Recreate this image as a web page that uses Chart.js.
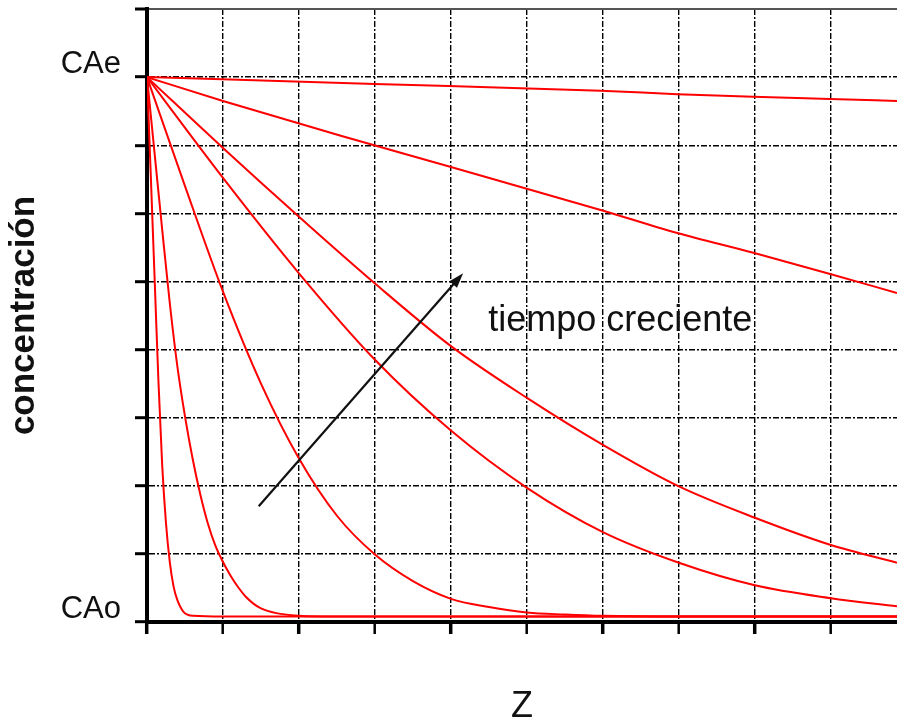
<!DOCTYPE html>
<html>
<head>
<meta charset="utf-8">
<script src="https://cdn.jsdelivr.net/npm/chart.js@4.4.0/dist/chart.umd.min.js"></script>
<style>
  body { margin: 0; background: #fff; }
  #wrap { width: 897px; height: 724px; }
</style>
</head>
<body>
<div id="wrap"><canvas id="myChart"></canvas></div>
<script>
// concentration profiles, shortest time first (Z position, concentration)
var z1 = [0, 0.05, 0.1, 0.15, 0.2, 0.25, 0.3, 0.35, 0.4, 0.48, 0.61, 1.0, 9.87];
var c1 = [8, 6.55, 5.05, 3.55, 2.3, 1.45, 0.88, 0.52, 0.32, 0.15, 0.09, 0.08, 0.08];

var z2 = [0, 0.1, 0.2, 0.3, 0.4, 0.5, 0.6, 0.7, 0.8, 0.9, 1.0, 1.1, 1.2, 1.3, 1.4, 1.5, 1.7, 1.9, 2.3, 9.87];
var c2 = [8, 6.88, 5.76, 4.68, 3.75, 3.02, 2.4, 1.88, 1.45, 1.12, 0.88, 0.68, 0.51, 0.37, 0.27, 0.2, 0.13, 0.1, 0.08, 0.08];

var z3 = [0, 0.5, 1, 1.5, 2, 2.5, 3, 3.5, 4, 4.5, 5, 5.5, 6, 7, 9.87];
var c3 = [8, 6.4, 4.85, 3.5, 2.4, 1.56, 0.99, 0.6, 0.34, 0.22, 0.14, 0.11, 0.09, 0.08, 0.08];

var z4 = [0, 1, 2, 3, 4, 5, 6, 7, 8, 9, 9.87];
var c4 = [8, 6.52, 5.12, 3.85, 2.81, 1.97, 1.32, 0.87, 0.54, 0.35, 0.23];

var z5 = [0, 1, 2, 3, 4, 5, 6, 7, 8, 9, 9.87];
var c5 = [8, 6.96, 5.95, 4.97, 4.05, 3.29, 2.6, 1.99, 1.53, 1.13, 0.87];

var z6 = [0, 1, 2.55, 4, 5.97, 6.98, 7.98, 8.99, 9.87];
var c6 = [8, 7.65, 7.14, 6.68, 6.05, 5.71, 5.42, 5.11, 4.83];

var z7 = [0, 3, 5.97, 6.98, 7.98, 8.99, 9.87];
var c7 = [8, 7.9, 7.80, 7.75, 7.71, 7.68, 7.65];

// axis labels
var yTickValues = [0, 8];
var yTickNames = ["CAo", "CAe"];
var xTitle = "Z";
var yTitle = "concentración";

// annotation: arrow (tail -> head) and its note
var arrowTail = [1.47, 1.70];
var arrowHead = [4.16, 5.12];
var noteText = "tiempo creciente";
var notePos = [4.49, 4.27];

var fontFamily = '"Liberation Sans", Arial, sans-serif';
var gridDash = [6, 2, 2, 2];

var profiles = [[z1, c1], [z2, c2], [z3, c3], [z4, c4], [z5, c5], [z6, c6], [z7, c7]];
var datasets = [];
for (var i = 0; i < profiles.length; i++) {
  var pts = [];
  for (var j = 0; j < profiles[i][0].length; j++) {
    pts.push({ x: profiles[i][0][j], y: profiles[i][1][j] });
  }
  datasets.push({
    data: pts,
    showLine: true,
    borderColor: "#ff0000",
    borderWidth: 2,
    pointRadius: 0,
    cubicInterpolationMode: "monotone",
    fill: false,
  });
}

//arrow + text drawn over the curves
var arrowPlugin = {
  id: "arrowNote",
  afterDatasetsDraw: function (chart) {
    var ctx = chart.ctx;
    var xs = chart.scales.x;
    var ys = chart.scales.y;
    var x1 = xs.getPixelForValue(arrowTail[0]);
    var y1 = ys.getPixelForValue(arrowTail[1]);
    var x2 = xs.getPixelForValue(arrowHead[0]);
    var y2 = ys.getPixelForValue(arrowHead[1]);
    var ang = Math.atan2(y2 - y1, x2 - x1);
    var c = Math.cos(ang), s = Math.sin(ang);
    ctx.save();
    ctx.strokeStyle = "#111";
    ctx.fillStyle = "#111";
    ctx.lineWidth = 2.2;
    ctx.beginPath();
    ctx.moveTo(x1, y1);
    ctx.lineTo(x2 - 10 * c, y2 - 10 * s);
    ctx.stroke();
    ctx.beginPath();
    ctx.moveTo(x2, y2);
    ctx.lineTo(x2 - 15 * c + 5 * s, y2 - 15 * s - 5 * c);
    ctx.lineTo(x2 - 15 * c - 5 * s, y2 - 15 * s + 5 * c);
    ctx.closePath();
    ctx.fill();
    ctx.font = "36px " + fontFamily;
    ctx.textBaseline = "alphabetic";
    ctx.textAlign = "left";
    ctx.fillText(noteText, xs.getPixelForValue(notePos[0]), ys.getPixelForValue(notePos[1]));
    ctx.restore();
  },
};

function isTop(ctx) {
  return ctx.tick && ctx.tick.value === 9;
}

var config = {
  type: "scatter",
  data: { datasets: datasets },
  options: {
    responsive: true,
    maintainAspectRatio: false,
    animation: false,
    layout: { padding: { top: 9, right: 0, bottom: 0, left: 0 } },
    plugins: { legend: { display: false }, tooltip: { enabled: false } },
    scales: {
      x: {
        type: "linear",
        min: 0,
        max: 9.87,
        ticks: { display: false, stepSize: 1, includeBounds: false },
        grid: {
          color: "#000",
          lineWidth: 1.4,
          tickLength: 12,
          tickColor: "#000",
          tickWidth: function (ctx) {
            return ctx.tick && ctx.tick.value % 2 === 0 ? 3.5 : 2.5;
          },
        },
        border: { display: true, color: "#000", width: 4, dash: gridDash },
        title: {
          display: true,
          text: xTitle,
          color: "#111",
          font: { size: 36, family: fontFamily, lineHeight: 0.92 },
          padding: { top: 0, bottom: 0 },
        },
        afterFit: function (scale) {
          scale.height = 102;
          scale.paddingLeft = 0;
          scale.paddingRight = 0;
        },
      },
      y: {
        type: "linear",
        min: 0,
        max: 9,
        ticks: {
          stepSize: 1,
          includeBounds: false,
          color: "#111",
          padding: 14,
          labelOffset: -13,
          font: { size: 31, family: fontFamily },
          callback: function (v) {
            var k = yTickValues.indexOf(v);
            return k >= 0 ? yTickNames[k] : "";
          },
        },
        grid: {
          color: function (ctx) {
            return isTop(ctx) ? "#555" : "#000";
          },
          lineWidth: function (ctx) {
            return isTop(ctx) ? 2 : 1.4;
          },
          tickLength: 12,
          tickColor: "#000",
          tickWidth: 3,
        },
        border: {
          display: true,
          color: "#000",
          width: 4,
          dash: function (ctx) {
            return isTop(ctx) ? [] : gridDash;
          },
        },
        title: {
          display: true,
          text: yTitle,
          color: "#111",
          font: { size: 35, weight: "bold", family: fontFamily, lineHeight: 1 },
          padding: { top: 7, bottom: 0 },
        },
        afterFit: function (scale) {
          scale.width = 147;
          scale.paddingTop = 0;
          scale.paddingBottom = 0;
        },
      },
    },
  },
  plugins: [arrowPlugin],
};

var myChart = new Chart(document.getElementById("myChart"), config);
</script>
</body>
</html>
